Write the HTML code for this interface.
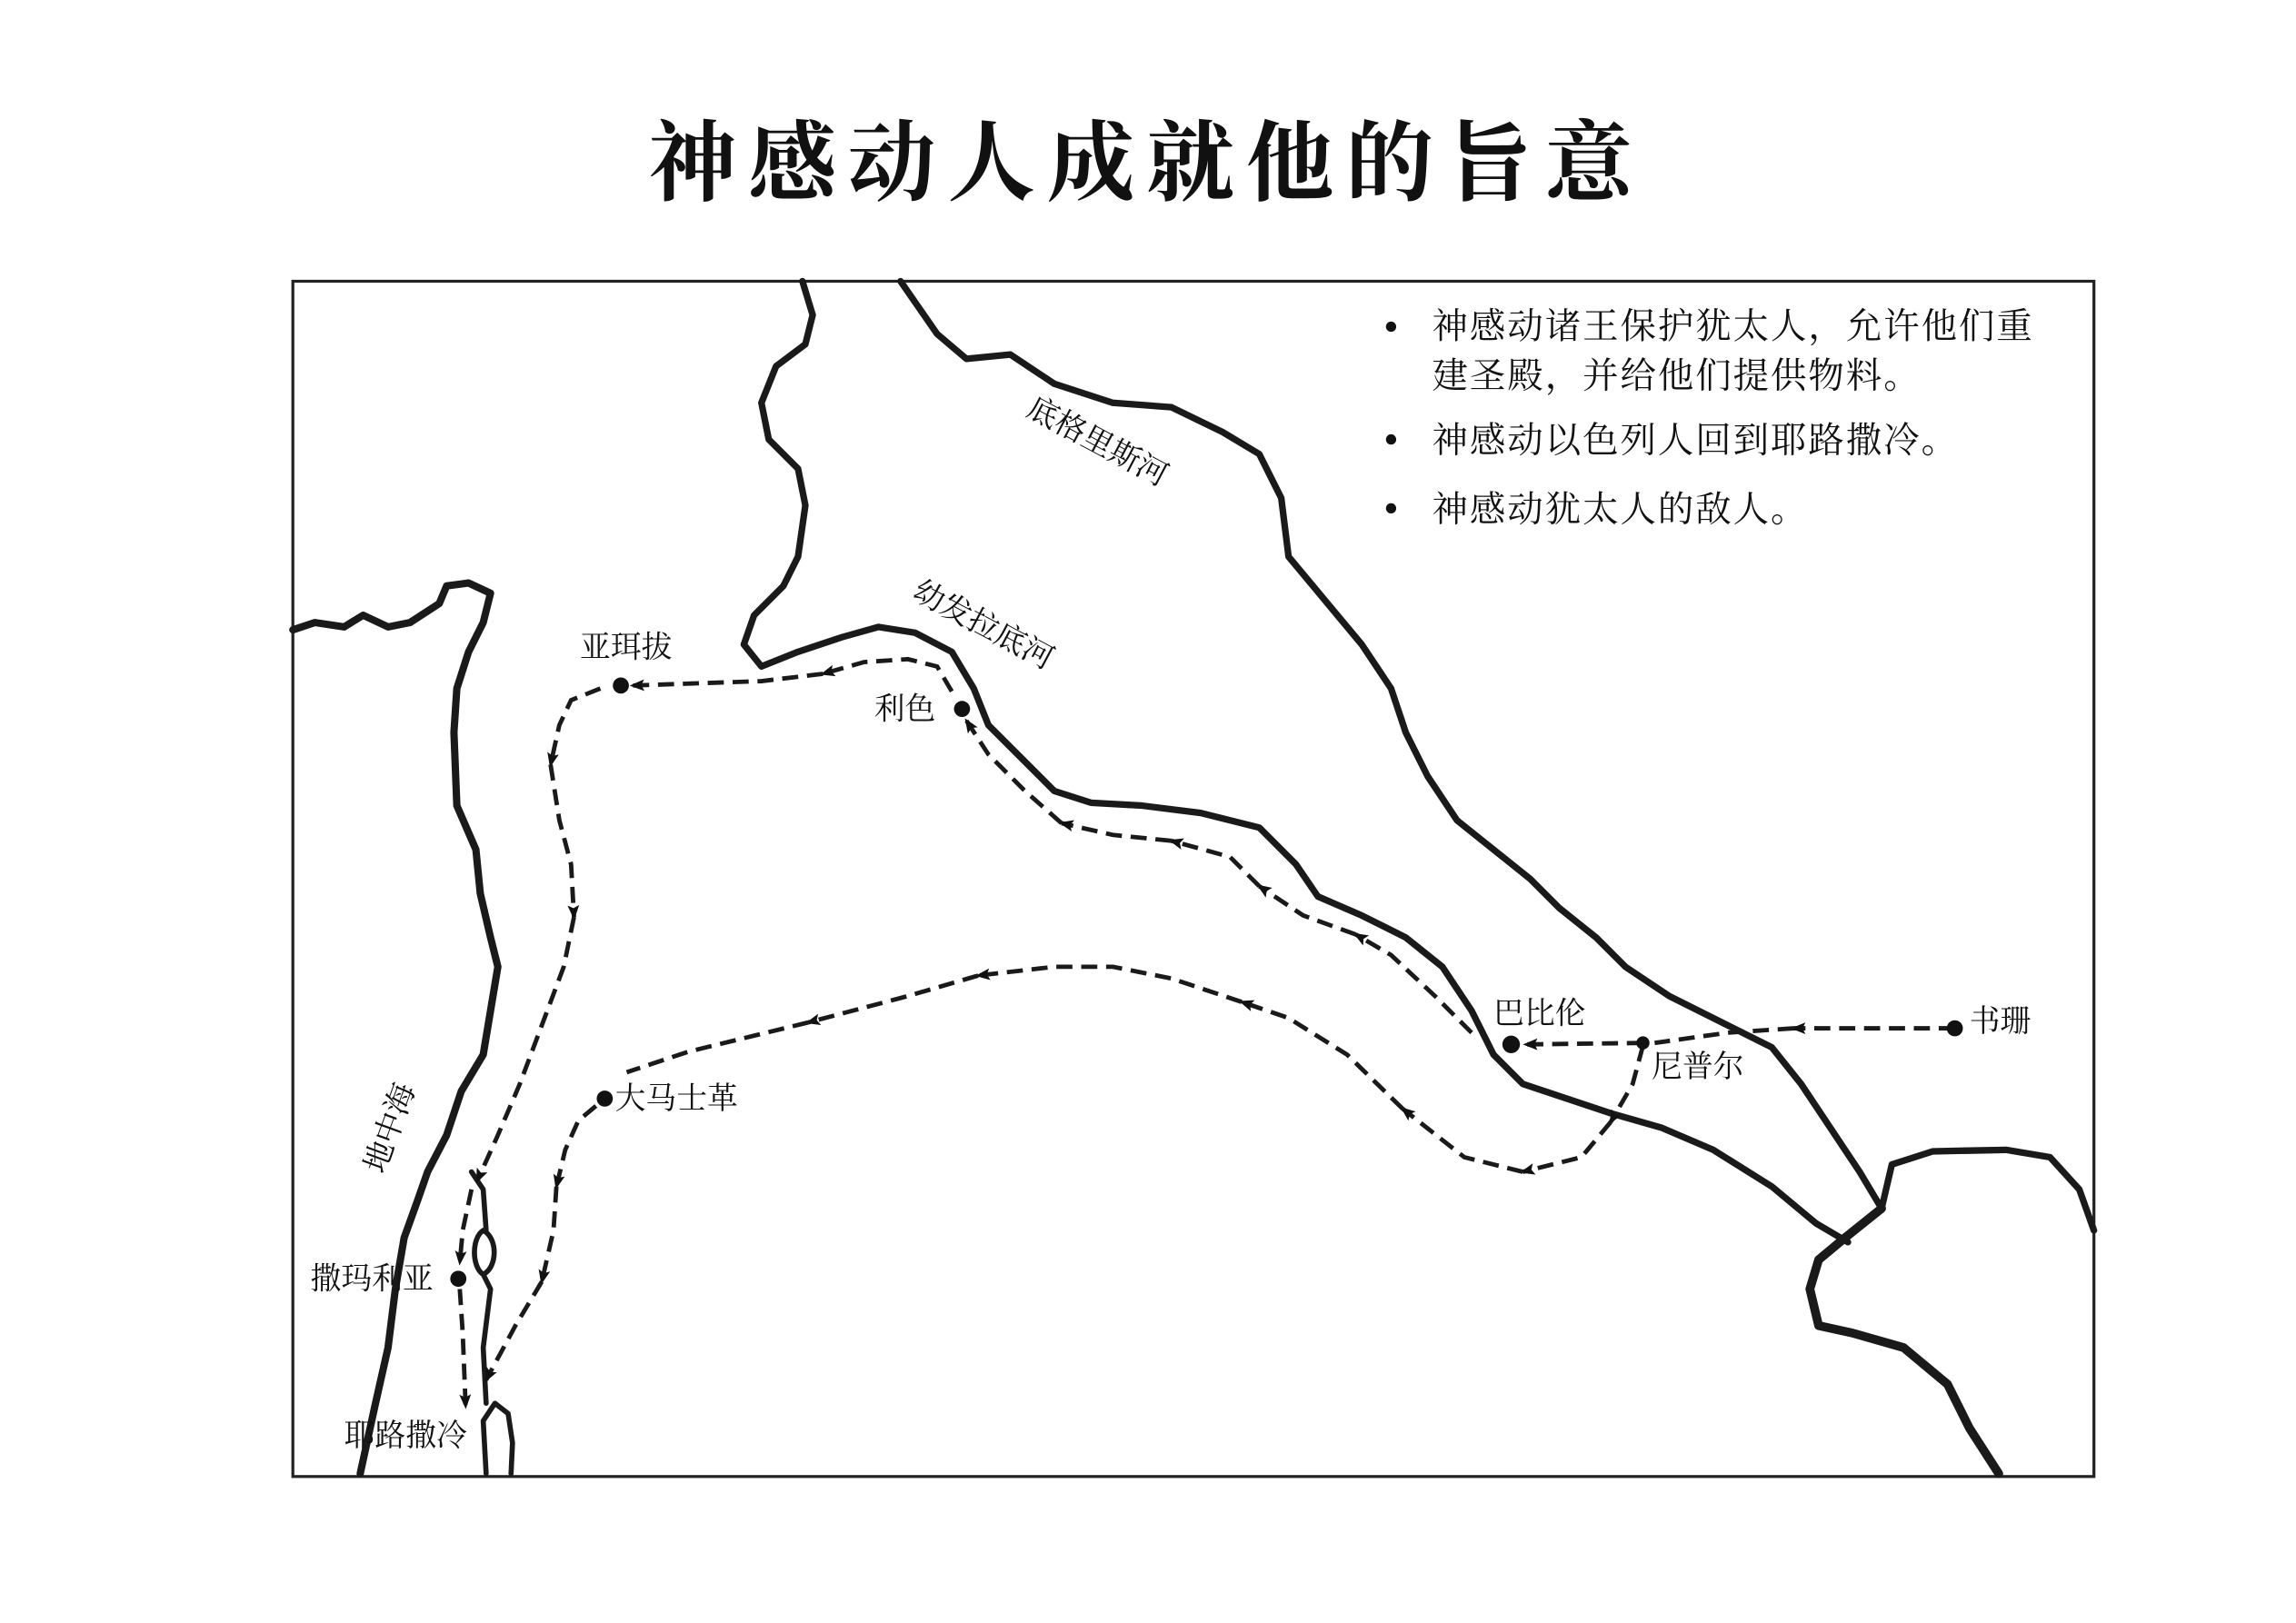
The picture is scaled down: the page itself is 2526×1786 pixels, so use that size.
<!DOCTYPE html>
<html><head><meta charset="utf-8"><style>
html,body{margin:0;padding:0;background:#fff;}
svg{display:block;}
text{font-family:"Liberation Serif","Noto Serif CJK SC","Noto Sans CJK SC",serif;fill:#111;}
</style></head><body>
<svg width="2526" height="1786" viewBox="0 0 1568 1108" preserveAspectRatio="none" xmlns="http://www.w3.org/2000/svg">
<defs>
<marker id="a" viewBox="0 0 10 10" refX="8" refY="5" markerWidth="12" markerHeight="10" orient="auto" markerUnits="userSpaceOnUse">
<path d="M0,1 L10,5 L0,9 L2,5 Z" fill="#111"/></marker>
</defs>
<rect width="1568" height="1108" fill="#fff"/>
<text x="783" y="132" text-anchor="middle" font-size="60" font-weight="bold" letter-spacing="8" style="font-family:'Noto Serif CJK SC','Liberation Serif',serif">神感动人成就他的旨意</text>
<rect x="200" y="192" width="1230" height="816" fill="none" stroke="#222" stroke-width="2"/>
<g fill="none" stroke="#1a1a1a" stroke-width="4.5" stroke-linejoin="round" stroke-linecap="round">
<path d="M615,192 L640,228 L660,245 L690,242 L720,262 L760,275 L800,278 L835,295 L860,310 L875,340 L880,380 L905,410 L930,440 L950,470 L960,500 L975,530 L995,560 L1020,580 L1045,600 L1065,620 L1090,640 L1110,660 L1140,680 L1180,700 L1210,715 L1230,740 L1250,770 L1270,800 L1285,825"/>
<path d="M1285,825 L1292,795 L1320,786 L1370,785 L1400,790 L1420,812 L1430,840"/>
<path d="M1285,825 L1260,845 L1242,860 L1236,880 L1242,905 L1265,910 L1300,920 L1330,945 L1345,975 L1365,1006" stroke-width="6"/>
<path d="M548,192 L555,215 L550,235 L530,250 L520,275 L525,300 L545,320 L550,345 L545,380 L535,400 L515,420 L508,440 L520,455 L545,445 L575,435 L600,428 L625,432 L650,445 L665,470 L675,495 L700,520 L720,540 L745,548 L780,550 L820,555 L860,565 L885,590 L900,612 L930,625 L960,640 L985,660 L1005,690 L1020,720 L1040,740 L1070,750 L1100,760 L1135,770 L1170,785 L1210,810 L1240,835 L1262,848"/>
<path d="M200,430 L215,425 L235,428 L248,420 L265,428 L280,425 L300,412 L305,400 L320,398 L335,405 L330,425 L320,445 L312,470 L310,500 L312,550 L325,580 L328,610 L335,640 L340,660 L335,690 L330,720 L315,745 L305,775 L292,800 L285,820 L276,845 L270,880 L265,920 L256,960 L246,1006" stroke-width="5"/>
<path d="M322,800 L330,812 L332,840 M330,840 C322,845 322,865 330,870 C340,865 340,845 330,840 M330,870 L335,880 L330,920 L332,958" stroke-width="3.5"/>
<path d="M332,1006 L330,970 L338,958 L347,965 L350,985 L349,1006" stroke-width="3.5"/>
</g>
<g fill="none" stroke="#1a1a1a" stroke-width="3" stroke-dasharray="11,6">
<path d="M1335,702 L1225,702" marker-end="url(#a)"/>
<path d="M1225,702 L1180,705 L1130,712"/>
<path d="M1122,712 L1042,713" marker-end="url(#a)"/>
<path d="M1122,714 L1115,740 L1100,766" marker-end="url(#a)"/>
<path d="M1100,766 L1080,790 L1040,800" marker-end="url(#a)"/>
<path d="M1040,800 L1000,790 L958,757" marker-end="url(#a)"/>
<path d="M958,757 L920,720 L880,695 L848,684" marker-end="url(#a)"/>
<path d="M848,684 L800,668 L760,660 L720,660 L668,666" marker-end="url(#a)"/>
<path d="M668,666 L620,680 L552,698" marker-end="url(#a)"/>
<path d="M552,698 L470,718 L428,732"/>
<path d="M1005,705 L980,680 L950,652 L926,638" marker-end="url(#a)"/>
<path d="M926,638 L890,625 L860,605" marker-end="url(#a)"/>
<path d="M860,605 L840,585 L800,574" marker-end="url(#a)"/>
<path d="M800,574 L760,570 L725,562" marker-end="url(#a)"/>
<path d="M725,562 L700,540 L675,515 L660,492" marker-end="url(#a)"/>
<path d="M650,472 L640,455 L620,450 L590,452 L562,460" marker-end="url(#a)"/>
<path d="M562,460 L520,465 L432,468" marker-end="url(#a)"/>
<path d="M410,470 L390,478 L382,495 L376,522" marker-end="url(#a)"/>
<path d="M376,522 L382,560 L390,590 L392,626" marker-end="url(#a)"/>
<path d="M392,626 L385,660 L370,700 L355,740 L340,775 L326,806" marker-end="url(#a)"/>
<path d="M322,812 L316,840 L314,862" marker-end="url(#a)"/>
<path d="M314,880 L316,910 L318,960" marker-end="url(#a)"/>
<path d="M407,755 L395,765 L386,785 L380,810" marker-end="url(#a)"/>
<path d="M380,810 L378,840 L370,875" marker-end="url(#a)"/>
<path d="M370,875 L352,905 L332,942" marker-end="url(#a)"/>
</g>
<g fill="#111">
<circle cx="1335" cy="702" r="5.5"/><circle cx="1122" cy="712" r="4.5"/><circle cx="1032" cy="713" r="6"/>
<circle cx="657" cy="484" r="5.5"/><circle cx="424" cy="468" r="5.5"/><circle cx="413" cy="750" r="5.5"/><circle cx="313" cy="873" r="5.5"/>
<circle cx="950" cy="223" r="3.5"/><circle cx="950" cy="300" r="3.5"/><circle cx="950" cy="347" r="3.5"/>
</g>
<g font-size="24.5" letter-spacing="1.2">
<text x="978" y="231">神感动诸王保护犹太人，允许他们重</text>
<text x="978" y="265">建圣殿，并给他们提供物料。</text>
<text x="978" y="309">神感动以色列人回到耶路撒冷。</text>
<text x="978" y="356">神感动犹太人的敌人。</text>
</g>
<g font-size="21">
<text x="1345" y="704">书珊</text>
<text x="1128" y="735">尼普尔</text>
<text x="1020" y="699">巴比伦</text>
<text x="597" y="491">利色</text>
<text x="396" y="449">亚珥拔</text>
<text x="420" y="757">大马士革</text>
<text x="212" y="880">撒玛利亚</text>
<text x="235" y="987">耶路撒冷</text>
<text transform="translate(262,802) rotate(-70)">地中海</text>
<text transform="translate(700,283) rotate(28)">底格里斯河</text>
<text transform="translate(622,408) rotate(28)">幼发拉底河</text>
</g>
</svg>
</body></html>
